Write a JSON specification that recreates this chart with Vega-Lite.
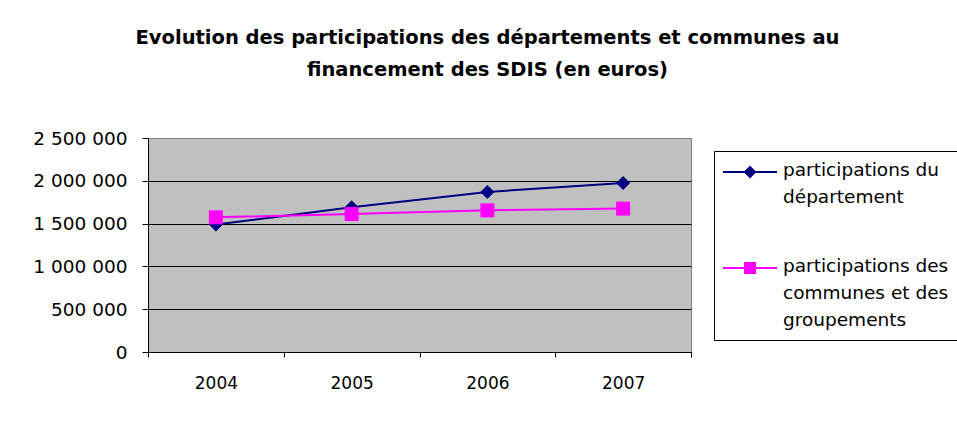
{
  "$schema": "https://vega.github.io/schema/vega-lite/v6.json",
  "width": 543,
  "height": 214,
  "autosize": {"type": "none"},
  "padding": {"left": 148, "top": 138, "right": 266, "bottom": 71},
  "background": "white",
  "title": {
    "text": ["Evolution des participations des départements et communes au", "financement des SDIS (en euros)"],
    "anchor": "middle",
    "frame": "group",
    "dx": 68,
    "font": "DejaVu Sans",
    "fontSize": 19.5,
    "fontWeight": "bold",
    "lineHeight": 32,
    "offset": 49,
    "color": "black"
  },
  "data": {
    "values": [
      {"annee": "2004", "serie": "participations du département", "montant": 1490000},
      {"annee": "2005", "serie": "participations du département", "montant": 1690000},
      {"annee": "2006", "serie": "participations du département", "montant": 1870000},
      {"annee": "2007", "serie": "participations du département", "montant": 1975000},
      {"annee": "2004", "serie": "participations des communes et des groupements", "montant": 1573000},
      {"annee": "2005", "serie": "participations des communes et des groupements", "montant": 1612000},
      {"annee": "2006", "serie": "participations des communes et des groupements", "montant": 1655000},
      {"annee": "2007", "serie": "participations des communes et des groupements", "montant": 1675000}
    ]
  },
  "encoding": {
    "x": {
      "field": "annee",
      "type": "ordinal",
      "scale": {"paddingInner": 0, "paddingOuter": 0},
      "axis": {
        "title": null,
        "labelAngle": 0,
        "tickBand": "extent",
        "tickSize": 5,
        "tickColor": "black",
        "domainColor": "black",
        "labelFont": "DejaVu Sans",
        "labelFontSize": 17,
        "labelColor": "black",
        "labelPadding": 18,
        "grid": false
      }
    },
    "y": {
      "field": "montant",
      "type": "quantitative",
      "scale": {"domain": [0, 2500000], "nice": false, "zero": true},
      "axis": {
        "title": null,
        "values": [0, 500000, 1000000, 1500000, 2000000, 2500000],
        "labelExpr": "join(split(format(datum.value, ','), ','), ' ')",
        "grid": true,
        "gridColor": {"condition": {"test": "datum.value >= 2500000", "value": "#808080"}, "value": "black"},
        "gridOpacity": 1,
        "tickSize": 6,
        "tickColor": "black",
        "domainColor": "black",
        "labelFont": "DejaVu Sans",
        "labelFontSize": 18.5,
        "labelColor": "black",
        "labelPadding": 15
      }
    },
    "color": {
      "field": "serie",
      "type": "nominal",
      "scale": {
        "domain": ["participations du département", "participations des communes et des groupements"],
        "range": ["#000080", "#FF00FF"]
      },
      "legend": {
        "title": null,
        "orient": "none",
        "legendX": 566,
        "legendY": 13,
        "direction": "vertical",
        "strokeColor": "black",
        "fillColor": "white",
        "padding": 10,
        "symbolSize": 400,
        "symbolOffset": 15,
        "symbolStrokeWidth": 2,
        "labelFont": "DejaVu Sans",
        "labelFontSize": 18.5,
        "labelColor": "black",
        "labelLimit": 400,
        "labelOffset": 22,
        "rowPadding": 50,
        "labelBaseline": "top",
        "labelExpr": "datum.label == 'participations du département' ? ['participations du', 'département'] : ['participations des', 'communes et des', 'groupements']",
        "encoding": {
          "symbols": {
            "shape": {"value": {"expr": "datum.value == 'participations du département' ? 'M-2.7,0H2.7M0,-0.5L0.5,0L0,0.5L-0.5,0Z' : 'M-2.7,0H2.7M-0.5,-0.5H0.5V0.5H-0.5Z'"}},
            "fill": {"value": {"expr": "datum.value == 'participations du département' ? '#000080' : '#FF00FF'"}},
            "stroke": {"value": {"expr": "datum.value == 'participations du département' ? '#000080' : '#FF00FF'"}},
            "strokeWidth": {"value": 2},
            "opacity": {"value": 1}
          },
          "labels": {
            "dy": {"value": -11},
            "lineHeight": {"value": 27}
          }
        }
      }
    }
  },
  "layer": [
    {"mark": {"type": "line", "strokeWidth": 2}},
    {
      "transform": [{"filter": "datum.serie == 'participations du département'"}],
      "mark": {"type": "point", "filled": true, "opacity": 1, "size": 195, "shape": "diamond"}
    },
    {
      "transform": [{"filter": "datum.serie != 'participations du département'"}],
      "mark": {"type": "point", "filled": true, "opacity": 1, "size": 195, "shape": "square"}
    }
  ],
  "config": {
    "view": {"fill": "#C0C0C0", "stroke": "#808080", "strokeWidth": 1}
  }
}
